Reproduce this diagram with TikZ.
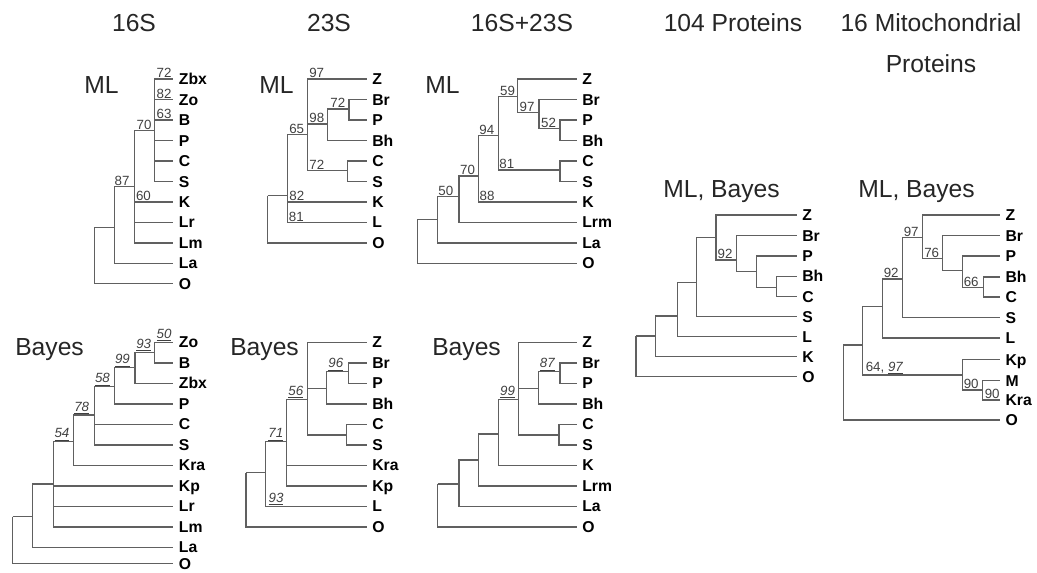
\documentclass[tikz,border=0pt]{standalone}
\usepackage{fontspec}
\setmainfont{Liberation Sans}
\definecolor{lg}{HTML}{606060}
\definecolor{ng}{HTML}{404040}
\newcommand{\leaffont}{\fontsize{11.8}{13}\selectfont\bfseries}
\newcommand{\supfont}{\fontsize{10}{12}\selectfont}
\newcommand{\methfont}{\fontsize{18.5}{22}\selectfont}
\newcommand{\ttlfont}{\fontsize{18.5}{22}\selectfont}
\newcommand{\bsv}[1]{\underline{\textit{#1}}}
\tikzset{
 br/.style={draw=lg, line width=1.05pt},
 leaf/.style={anchor=west, font=\leaffont, inner xsep=4pt, inner ysep=0pt, text height=8.5pt, text depth=0pt},
 supp/.style={font=\supfont, text=ng, inner sep=0.6pt, anchor=south},
 meth/.style={font=\methfont, text=black!85, anchor=base west, inner sep=0pt},
 ttl/.style={font=\ttlfont, anchor=base, inner sep=0pt, text=black!85},
}
\begin{document}
\begin{tikzpicture}[x=0.75pt,y=-0.75pt]
\useasboundingbox (0,0) rectangle (1037,572);
% titles
\node[ttl] (h1) at (134,31) {16S};
\node[ttl] (h2) at (329,31) {23S};
\node[ttl] (h3) at (522,31) {16S+23S};
\node[ttl] (h4) at (733,31) {104 Proteins};
\node[ttl] (h5) at (931,31) {16 Mitochondrial};
\node[ttl] (h5b) at (931,72) {Proteins};
% method labels
\node[meth] (m1) at (84,93) {ML};
\node[meth] (m2) at (259,93) {ML};
\node[meth] (m3) at (425,93) {ML};
\node[meth] (m4) at (15,355) {Bayes};
\node[meth] (m5) at (230,355) {Bayes};
\node[meth] (m6) at (432,355) {Bayes};
\node[meth] (m7) at (663,197) {ML, Bayes};
\node[meth] (m8) at (858,197) {ML, Bayes};

% ===== Tree 1: 16S ML
\coordinate (R1) at (94.3,227.7);
\coordinate (N1a) at (114.3,227.7);
\coordinate (N1b) at (134.3,186.7);
\coordinate (N1c) at (154.3,130.7);
\node[leaf] (t1zbx) at (173.3,79) {Zbx};
\node[leaf] (t1zo) at (173.3,99.5) {Zo};
\node[leaf] (t1b) at (173.3,119.9) {B};
\node[leaf] (t1p) at (173.3,140.4) {P};
\node[leaf] (t1c) at (173.3,160.9) {C};
\node[leaf] (t1s) at (173.3,181.4) {S};
\node[leaf] (t1k) at (173.3,201.8) {K};
\node[leaf] (t1lr) at (173.3,222.3) {Lr};
\node[leaf] (t1lm) at (173.3,242.8) {Lm};
\node[leaf] (t1la) at (173.3,263.2) {La};
\node[leaf] (t1o) at (173.3,283.7) {O};
\foreach \a/\b in {R1/N1a,R1/t1o.west,N1a/N1b,N1a/t1la.west,N1b/N1c,N1b/t1k.west,N1b/t1lr.west,N1b/t1lm.west,N1c/t1zbx.west,N1c/t1zo.west,N1c/t1b.west,N1c/t1p.west,N1c/t1c.west,N1c/t1s.west}
  \draw[br] (\a) |- (\b);
\node[supp] (s1a) at (164,79) {72};
\node[supp] (s1b) at (164,99.5) {82};
\node[supp] (s1c) at (164,119.9) {63};
\node[supp] (s1d) at (144,130.7) {70};
\node[supp] (s1e) at (122,186.7) {87};
\node[supp] (s1f) at (143.5,201.8) {60};

% ===== Tree 2: 23S ML
\coordinate (R2) at (267.7,195.7);
\coordinate (N2a) at (287.7,195.7);
\coordinate (N2b) at (307.7,134.3);
\coordinate (N2c) at (327.7,124);
\coordinate (N2d) at (347.7,170.7);
\coordinate (N2e) at (349,109);
\node[leaf] (t2z) at (366.7,79) {Z};
\node[leaf] (t2br) at (366.7,99.5) {Br};
\node[leaf] (t2p) at (366.7,119.9) {P};
\node[leaf] (t2bh) at (366.7,140.4) {Bh};
\node[leaf] (t2c) at (366.7,160.9) {C};
\node[leaf] (t2s) at (366.7,181.4) {S};
\node[leaf] (t2k) at (366.7,201.8) {K};
\node[leaf] (t2l) at (366.7,222.3) {L};
\node[leaf] (t2o) at (366.7,242.8) {O};
\foreach \a/\b in {R2/N2a,R2/t2o.west,N2a/N2b,N2a/t2k.west,N2a/t2l.west,N2b/t2z.west,N2b/N2c,N2b/N2d,N2c/N2e,N2c/t2bh.west,N2e/t2br.west,N2e/t2p.west,N2d/t2c.west,N2d/t2s.west}
  \draw[br] (\a) |- (\b);
\node[supp] (s2a) at (316.7,79) {97};
\node[supp] (s2b) at (337.8,109) {72};
\node[supp] (s2c) at (316.8,124) {98};
\node[supp] (s2d) at (296.7,134.3) {65};
\node[supp] (s2e) at (316.8,170.7) {72};
\node[supp] (s2f) at (296.8,201.8) {82};
\node[supp] (s2g) at (296.3,222.3) {81};

% ===== Tree 3: 16S+23S ML
\coordinate (R3) at (417.3,219.3);
\coordinate (N3a) at (437.7,219.3);
\coordinate (N3b) at (459,196.7);
\coordinate (N3c) at (478.3,176);
\coordinate (N3d) at (498.3,135.7);
\coordinate (N3e) at (517.3,96.7);
\coordinate (N3f) at (560,170);
\coordinate (N3g) at (539,112.7);
\coordinate (N3h) at (560,128.3);
\node[leaf] (t3z) at (576.7,79) {Z};
\node[leaf] (t3br) at (576.7,99.5) {Br};
\node[leaf] (t3p) at (576.7,119.9) {P};
\node[leaf] (t3bh) at (576.7,140.4) {Bh};
\node[leaf] (t3c) at (576.7,160.9) {C};
\node[leaf] (t3s) at (576.7,181.4) {S};
\node[leaf] (t3k) at (576.7,201.8) {K};
\node[leaf] (t3lrm) at (576.7,222.3) {Lrm};
\node[leaf] (t3la) at (576.7,242.8) {La};
\node[leaf] (t3o) at (576.7,263.2) {O};
\foreach \a/\b in {R3/N3a,R3/t3o.west,N3a/N3b,N3a/t3la.west,N3b/N3c,N3b/t3lrm.west,N3c/N3d,N3c/t3k.west,N3d/N3e,N3d/N3f,N3e/t3z.west,N3e/N3g,N3g/t3br.west,N3g/N3h,N3h/t3p.west,N3h/t3bh.west,N3f/t3c.west,N3f/t3s.west}
  \draw[br] (\a) |- (\b);
\node[supp] (s3a) at (507.5,96.7) {59};
\node[supp] (s3b) at (527,112.7) {97};
\node[supp] (s3c) at (548.5,128.3) {52};
\node[supp] (s3d) at (486.8,135.7) {94};
\node[supp] (s3e) at (506.8,170) {81};
\node[supp] (s3f) at (467.5,176) {70};
\node[supp] (s3g) at (487,201.8) {88};
\node[supp] (s3h) at (445.8,196.7) {50};

% ===== Tree 4: 16S Bayes
\coordinate (R4) at (12.7,516.7);
\coordinate (N4a) at (32.7,516.7);
\coordinate (N4b) at (53.3,484);
\coordinate (N4c) at (73.3,441.7);
\coordinate (N4d) at (94.3,415);
\coordinate (N4e) at (114.3,386.7);
\coordinate (N4f) at (135,367.7);
\coordinate (N4g) at (154.3,352.3);
\node[leaf] (t4zo) at (173.3,342.3) {Zo};
\node[leaf] (t4b) at (173.3,362.8) {B};
\node[leaf] (t4zbx) at (173.3,383.3) {Zbx};
\node[leaf] (t4p) at (173.3,403.8) {P};
\node[leaf] (t4c) at (173.3,424.3) {C};
\node[leaf] (t4s) at (173.3,444.8) {S};
\node[leaf] (t4kra) at (173.3,465.3) {Kra};
\node[leaf] (t4kp) at (173.3,485.8) {Kp};
\node[leaf] (t4lr) at (173.3,506.3) {Lr};
\node[leaf] (t4lm) at (173.3,526.8) {Lm};
\node[leaf] (t4la) at (173.3,547.3) {La};
\node[leaf] (t4o) at (173.3,563.5) {O};
\foreach \a/\b in {R4/N4a,R4/t4o.west,N4a/N4b,N4a/t4la.west,N4b/N4c,N4b/t4kp.west,N4b/t4lr.west,N4b/t4lm.west,N4c/N4d,N4c/t4kra.west,N4d/N4e,N4d/t4c.west,N4d/t4s.west,N4e/N4f,N4e/t4p.west,N4f/N4g,N4f/t4zbx.west,N4g/t4zo.west,N4g/t4b.west}
  \draw[br] (\a) |- (\b);
\node[supp] (s4a) at (164,342.3) {\bsv{50}};
\node[supp] (s4b) at (143.7,352.3) {\bsv{93}};
\node[supp] (s4c) at (122.5,367.7) {\bsv{99}};
\node[supp] (s4d) at (102.5,386.7) {\bsv{58}};
\node[supp] (s4e) at (81.7,415) {\bsv{78}};
\node[supp] (s4f) at (62,441.7) {\bsv{54}};

% ===== Tree 5: 23S Bayes
\coordinate (R5) at (246,472.7);
\coordinate (N5a) at (265.7,472.7);
\coordinate (N5b) at (286.7,441.7);
\coordinate (N5c) at (307.3,399.3);
\coordinate (N5d) at (326.7,388.3);
\coordinate (N5e) at (346.7,435);
\coordinate (N5f) at (348.3,371.7);
\node[leaf] (t5z) at (366.7,342.3) {Z};
\node[leaf] (t5br) at (366.7,362.8) {Br};
\node[leaf] (t5p) at (366.7,383.3) {P};
\node[leaf] (t5bh) at (366.7,403.8) {Bh};
\node[leaf] (t5c) at (366.7,424.3) {C};
\node[leaf] (t5s) at (366.7,444.8) {S};
\node[leaf] (t5kra) at (366.7,465.3) {Kra};
\node[leaf] (t5kp) at (366.7,485.8) {Kp};
\node[leaf] (t5l) at (366.7,506.3) {L};
\node[leaf] (t5o) at (366.7,526.8) {O};
\foreach \a/\b in {R5/N5a,R5/t5o.west,N5a/N5b,N5a/t5l.west,N5b/N5c,N5b/t5kra.west,N5b/t5kp.west,N5c/t5z.west,N5c/N5d,N5c/N5e,N5d/N5f,N5d/t5bh.west,N5f/t5br.west,N5f/t5p.west,N5e/t5c.west,N5e/t5s.west}
  \draw[br] (\a) |- (\b);
\node[supp] (s5a) at (335.8,371.7) {\bsv{96}};
\node[supp] (s5b) at (295.8,399.3) {\bsv{56}};
\node[supp] (s5c) at (275.8,441.7) {\bsv{71}};
\node[supp] (s5d) at (276,506.3) {\bsv{93}};

% ===== Tree 6: 16S+23S Bayes
\coordinate (R6) at (437.7,484);
\coordinate (N6a) at (459,484);
\coordinate (N6b) at (478.3,460);
\coordinate (N6c) at (498.3,434);
\coordinate (N6d) at (518.3,399.3);
\coordinate (N6e) at (538.3,388.3);
\coordinate (N6f) at (559,435);
\coordinate (N6g) at (560,371.7);
\node[leaf] (t6z) at (576.7,342.3) {Z};
\node[leaf] (t6br) at (576.7,362.8) {Br};
\node[leaf] (t6p) at (576.7,383.3) {P};
\node[leaf] (t6bh) at (576.7,403.8) {Bh};
\node[leaf] (t6c) at (576.7,424.3) {C};
\node[leaf] (t6s) at (576.7,444.8) {S};
\node[leaf] (t6k) at (576.7,465.3) {K};
\node[leaf] (t6lrm) at (576.7,485.8) {Lrm};
\node[leaf] (t6la) at (576.7,506.3) {La};
\node[leaf] (t6o) at (576.7,526.8) {O};
\foreach \a/\b in {R6/N6a,R6/t6o.west,N6a/N6b,N6a/t6la.west,N6b/N6c,N6b/t6lrm.west,N6c/N6d,N6c/t6k.west,N6d/t6z.west,N6d/N6e,N6d/N6f,N6e/N6g,N6e/t6bh.west,N6g/t6br.west,N6g/t6p.west,N6f/t6c.west,N6f/t6s.west}
  \draw[br] (\a) |- (\b);
\node[supp] (s6a) at (547.5,371.7) {\bsv{87}};
\node[supp] (s6b) at (507.5,399.3) {\bsv{99}};

% ===== Tree 7: 104 Proteins
\coordinate (R7) at (636,336);
\coordinate (N7a) at (655.7,336);
\coordinate (N7b) at (677.3,316);
\coordinate (N7c) at (696.7,282.7);
\coordinate (N7d) at (716,237.3);
\coordinate (N7e) at (736.7,260);
\coordinate (N7f) at (756.7,271.7);
\coordinate (N7g) at (776.7,287.3);
\node[leaf] (t7z) at (796.7,215) {Z};
\node[leaf] (t7br) at (796.7,235.5) {Br};
\node[leaf] (t7p) at (796.7,256) {P};
\node[leaf] (t7bh) at (796.7,276.3) {Bh};
\node[leaf] (t7c) at (796.7,296.5) {C};
\node[leaf] (t7s) at (796.7,316.7) {S};
\node[leaf] (t7l) at (796.7,336.7) {L};
\node[leaf] (t7k) at (796.7,356.7) {K};
\node[leaf] (t7o) at (796.7,376.7) {O};
\foreach \a/\b in {R7/N7a,R7/t7o.west,N7a/N7b,N7a/t7k.west,N7b/N7c,N7b/t7l.west,N7c/N7d,N7c/t7s.west,N7d/t7z.west,N7d/N7e,N7e/t7br.west,N7e/N7f,N7f/t7p.west,N7f/N7g,N7g/t7bh.west,N7g/t7c.west}
  \draw[br] (\a) |- (\b);
\node[supp] (s7a) at (725,260) {92};

% ===== Tree 8: 16 Mitochondrial Proteins
\coordinate (R8) at (843.3,345);
\coordinate (N8a) at (862.7,345);
\coordinate (N8b) at (882.7,306.7);
\coordinate (N8c) at (902.7,279);
\coordinate (N8d) at (922.7,237.3);
\coordinate (N8e) at (942.3,258.3);
\coordinate (N8f) at (962.7,270.7);
\coordinate (N8g) at (983.3,287.3);
\coordinate (N8h) at (962.7,375);
\coordinate (N8i) at (982.7,390);
\node[leaf] (t8z) at (1000,215) {Z};
\node[leaf] (t8br) at (1000,235.5) {Br};
\node[leaf] (t8p) at (1000,256) {P};
\node[leaf] (t8bh) at (1000,277) {Bh};
\node[leaf] (t8c) at (1000,297) {C};
\node[leaf] (t8s) at (1000,317.5) {S};
\node[leaf] (t8l) at (1000,338) {L};
\node[leaf] (t8kp) at (1000,359.5) {Kp};
\node[leaf] (t8m) at (1000,380.5) {M};
\node[leaf] (t8kra) at (1000,400) {Kra};
\node[leaf] (t8o) at (1000,420) {O};
\foreach \a/\b in {R8/N8a,R8/t8o.west,N8a/N8b,N8a/N8h,N8b/N8c,N8b/t8l.west,N8c/N8d,N8c/t8s.west,N8d/t8z.west,N8d/N8e,N8e/t8br.west,N8e/N8f,N8f/t8p.west,N8f/N8g,N8g/t8bh.west,N8g/t8c.west,N8h/t8kp.west,N8h/N8i,N8i/t8m.west,N8i/t8kra.west}
  \draw[br] (\a) |- (\b);
\node[supp] (s8a) at (911.2,237.3) {97};
\node[supp] (s8b) at (931.7,258.3) {76};
\node[supp] (s8c) at (971.2,287.3) {66};
\node[supp] (s8d) at (891.2,279) {92};
\node[supp] (s8e) at (884.5,375) {64, \bsv{97}};
\node[supp] (s8f) at (971.2,390) {90};
\node[supp] (s8g) at (992.2,400) {90};
\end{tikzpicture}
\end{document}
